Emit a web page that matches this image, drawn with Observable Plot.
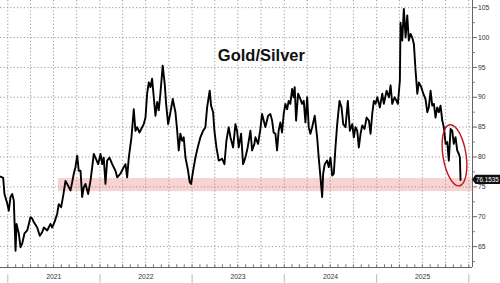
<!DOCTYPE html>
<html>
<head>
<meta charset="utf-8">
<script src="https://cdn.jsdelivr.net/npm/d3@7"></script>
<script src="https://cdn.jsdelivr.net/npm/@observablehq/plot@0.6"></script>
<style>
  html, body { margin: 0; padding: 0; background: #fff; }
  #chart { width: 500px; height: 283px; overflow: hidden; }
  svg { font-family: "Liberation Sans", Arial, sans-serif; }
</style>
</head>
<body>
<div id="chart"></div>
<script>
// ---- Data (decimal years) ----
const time = [
  2020.921, 2020.950, 2020.964, 2020.994, 2021.011, 2021.029, 2021.048, 2021.065, 2021.084, 2021.095,
  2021.119, 2021.138, 2021.156, 2021.181, 2021.211, 2021.246, 2021.265, 2021.282, 2021.319, 2021.347,
  2021.373, 2021.391, 2021.428, 2021.463, 2021.482, 2021.507, 2021.536, 2021.553, 2021.579, 2021.601,
  2021.626, 2021.644, 2021.680, 2021.699, 2021.716, 2021.734, 2021.753, 2021.770, 2021.789, 2021.807,
  2021.824, 2021.843, 2021.872, 2021.897, 2021.916, 2021.933, 2021.951, 2021.981, 2022.006, 2022.024,
  2022.041, 2022.060, 2022.078, 2022.103, 2022.133, 2022.168, 2022.187, 2022.222, 2022.258, 2022.277,
  2022.295, 2022.313, 2022.342, 2022.367, 2022.385, 2022.404, 2022.429, 2022.458, 2022.475, 2022.494,
  2022.512, 2022.530, 2022.548, 2022.566, 2022.584, 2022.602, 2022.621, 2022.638, 2022.656, 2022.681,
  2022.703, 2022.718, 2022.740, 2022.765, 2022.790, 2022.819, 2022.838, 2022.855, 2022.873, 2022.892,
  2022.909, 2022.928, 2022.953, 2022.974, 2022.989, 2023.011, 2023.036, 2023.061, 2023.090, 2023.120,
  2023.144, 2023.163, 2023.180, 2023.191, 2023.206, 2023.228, 2023.242, 2023.264, 2023.289, 2023.326,
  2023.351, 2023.372, 2023.397, 2023.416, 2023.445, 2023.470, 2023.488, 2023.506, 2023.532, 2023.553,
  2023.578, 2023.603, 2023.633, 2023.651, 2023.676, 2023.687, 2023.716, 2023.741, 2023.759, 2023.777,
  2023.795, 2023.825, 2023.849, 2023.868, 2023.885, 2023.904, 2023.922, 2023.939, 2023.958, 2023.976,
  2023.994, 2024.012, 2024.031, 2024.048, 2024.066, 2024.085, 2024.102, 2024.113, 2024.128, 2024.150,
  2024.175, 2024.193, 2024.211, 2024.229, 2024.248, 2024.265, 2024.283, 2024.302, 2024.330, 2024.356,
  2024.373, 2024.392, 2024.410, 2024.421, 2024.438, 2024.464, 2024.482, 2024.500, 2024.519, 2024.536,
  2024.554, 2024.573, 2024.598, 2024.620, 2024.638, 2024.663, 2024.688, 2024.710, 2024.736, 2024.753,
  2024.771, 2024.790, 2024.807, 2024.826, 2024.844, 2024.869, 2024.891, 2024.916, 2024.934, 2024.952,
  2024.970, 2024.988, 2025.007, 2025.035, 2025.061, 2025.078, 2025.108, 2025.133, 2025.151, 2025.169,
  2025.194, 2025.216, 2025.230, 2025.252, 2025.259, 2025.278, 2025.295, 2025.314, 2025.332, 2025.349,
  2025.368, 2025.386, 2025.404, 2025.422, 2025.441, 2025.458, 2025.484, 2025.506, 2025.530, 2025.549,
  2025.566, 2025.585, 2025.603, 2025.621, 2025.639, 2025.657, 2025.675, 2025.693, 2025.712, 2025.729,
  2025.748, 2025.766, 2025.783, 2025.802, 2025.820, 2025.837, 2025.856, 2025.874, 2025.892, 2025.903,
  2025.910
];
const ratio = [
  76.7, 76.5, 73.8, 72.2, 71.0, 73.3, 73.8, 72.7, 64.3, 68.8,
  67.2, 64.9, 65.5, 67.2, 67.7, 69.9, 69.7, 69.1, 68.2, 66.8,
  67.4, 68.2, 67.7, 68.8, 68.2, 69.1, 70.5, 72.1, 71.6, 73.5,
  76.0, 75.5, 74.4, 75.8, 77.2, 78.3, 80.2, 77.7, 77.7, 73.3,
  74.9, 75.5, 73.8, 76.0, 78.3, 80.5, 79.9, 78.8, 80.5, 78.8,
  79.9, 75.5, 79.4, 79.9, 78.8, 77.7, 76.6, 77.2, 78.3, 78.8,
  76.6, 79.9, 83.3, 88.0, 84.4, 85.0, 84.1, 85.0, 85.5, 86.6,
  90.6, 92.5, 91.7, 93.1, 90.0, 86.9, 89.2, 87.8, 90.6, 95.3,
  92.2, 88.9, 85.5, 87.5, 89.7, 87.5, 84.4, 81.1, 83.9, 82.7,
  83.3, 79.9, 78.0, 75.8, 75.5, 77.7, 79.9, 81.6, 83.3, 84.4,
  85.0, 88.3, 90.0, 91.1, 88.6, 87.5, 84.4, 81.6, 79.4, 79.7,
  78.8, 82.7, 85.0, 83.3, 81.6, 85.5, 84.4, 81.6, 83.9, 78.8,
  79.9, 81.6, 84.4, 81.1, 82.2, 83.3, 82.2, 84.7, 87.2, 86.1,
  85.0, 86.9, 87.2, 86.1, 84.1, 83.9, 81.1, 84.4, 85.8, 84.1,
  87.2, 88.9, 88.0, 89.4, 88.9, 91.4, 90.0, 91.7, 86.1, 90.6,
  89.7, 88.9, 89.4, 85.8, 90.0, 85.0, 83.9, 85.0, 86.9, 83.3,
  79.9, 76.6, 73.3, 77.2, 78.8, 79.4, 78.3, 79.9, 76.9, 77.2,
  81.6, 85.5, 89.4, 88.3, 85.5, 85.0, 89.4, 84.4, 85.5, 83.3,
  85.0, 84.4, 81.6, 83.9, 85.3, 84.7, 86.6, 86.1, 83.9, 87.2,
  89.4, 88.9, 90.0, 88.3, 90.6, 88.9, 91.1, 90.0, 92.0, 88.9,
  90.0, 89.4, 88.9, 92.8, 102.5, 99.5, 104.8, 100.0, 103.7, 99.5,
  100.6, 100.0, 98.9, 94.5, 90.6, 92.5, 91.7, 90.6, 89.7, 87.5,
  88.3, 91.1, 88.6, 88.9, 86.6, 88.3, 87.5, 88.6, 86.1, 85.0,
  82.2, 82.5, 79.4, 84.7, 84.4, 82.2, 83.3, 81.1, 80.5, 79.9,
  76.1535
];
const yTicks = [65, 70, 75, 80, 85, 90, 95, 100, 105];
const yMinorTicks = [62.5, 67.5, 72.5, 77.5, 82.5, 87.5, 92.5, 97.5, 102.5];
const yearLabels = ["2021", "2022", "2023", "2024", "2025"];
const titleText = "Gold/Silver";
const lastLabel = "76.1535";
const bandLow = 74.2, bandHigh = 76.4, bandStart = 2021.55;
const xStart = 2020.921, xEnd = 2026.04;
const yDomain = [61.5, 106.2];
// annotation ellipse (centre in data units, semi-axes in years / ratio units)
const ellipseCenter = [2025.85, 80.2], ellipseRx = 0.125, ellipseRy = 5.17, ellipseTilt = -9;

// ---- helpers ----
function toDate(t) {
  const y = Math.floor(t);
  const s = Date.UTC(y, 0, 1), e = Date.UTC(y + 1, 0, 1);
  return new Date(s + (t - y) * (e - s));
}
const data = time.map((t, i) => ({date: toDate(t), value: ratio[i]}));
const quarters = [];
const months = [];
for (let y = 2020; y <= 2026; y++) {
  for (let m = 0; m < 12; m++) {
    const d = new Date(Date.UTC(y, m, 1));
    if (d >= toDate(xStart) && d <= toDate(xEnd)) {
      months.push(d);
      if (m % 3 === 0) quarters.push(d);
    }
  }
}
const yearStarts = [2021, 2022, 2023, 2024, 2025, 2026].map(y => new Date(Date.UTC(y, 0, 1)));
const yearMids = yearLabels.map(y => new Date(Date.UTC(+y, 6, 2)));
const lastValue = ratio[ratio.length - 1];

const ellipseMark = (index, scales) => {
  const x = scales.x, y = scales.y;
  const cx = x(toDate(ellipseCenter[0])), cy = y(ellipseCenter[1]);
  const rx = Math.abs(x(toDate(ellipseCenter[0] + ellipseRx)) - cx);
  const ry = Math.abs(y(ellipseCenter[1] + ellipseRy) - cy);
  const el = d3.create("svg:ellipse")
    .attr("cx", cx).attr("cy", cy).attr("rx", rx).attr("ry", ry)
    .attr("transform", `rotate(${ellipseTilt} ${cx} ${cy})`)
    .attr("fill", "none").attr("stroke", "#c0171d").attr("stroke-width", 1.4);
  return el.node();
};

// black pointer box behind the last-value label
const lastBox = (index, scales, values, dimensions) => {
  const y = scales.y(lastValue);
  const x0 = dimensions.width - dimensions.marginRight;
  return d3.create("svg:path")
    .attr("d", `M${x0},${y} L${x0 + 3.5},${y - 4.6} L${x0 + 30},${y - 4.6} L${x0 + 30},${y + 4.6} L${x0 + 3.5},${y + 4.6} Z`)
    .attr("fill", "#111").node();
};

const chart = Plot.plot({
  width: 500,
  height: 283,
  marginLeft: 0,
  marginRight: 28,
  marginTop: 0,
  marginBottom: 16,
  style: {fontFamily: "'Liberation Sans', Arial, sans-serif", background: "#fff", overflow: "visible"},
  x: {type: "utc", domain: [toDate(xStart), toDate(xEnd)]},
  y: {domain: yDomain},
  marks: [
    Plot.rect([0], {x1: () => toDate(bandStart), x2: () => toDate(xEnd), y1: () => bandLow, y2: () => bandHigh, fill: "#f9d2d2"}),
    Plot.gridY(yTicks, {stroke: "#9a9a9a", strokeOpacity: 1, strokeDasharray: "1.2,2.2", strokeWidth: 1}),
    Plot.gridX(quarters, {stroke: "#9a9a9a", strokeOpacity: 1, strokeDasharray: "1.2,2.2", strokeWidth: 1}),
    Plot.text([titleText], {x: () => toDate(2023.752), y: () => 96.95, text: d => d, fontSize: 16.5, fontWeight: "bold", fill: "#111", textAnchor: "middle"}),
    Plot.lineY(data, {x: "date", y: "value", stroke: "#000", strokeWidth: 1.9, strokeLinejoin: "round"}),
    ellipseMark,
    // axis lines
    Plot.ruleY([yDomain[0]], {stroke: "#666", strokeWidth: 1}),
    Plot.ruleX([toDate(xEnd)], {stroke: "#666", strokeWidth: 1}),
    // month ticks
    Plot.ruleX(months, {x: d => d, y1: yDomain[0], y2: yDomain[0] + 0.45, stroke: "#777", strokeWidth: 1}),
    // year separators below axis
    Plot.ruleX(yearStarts, {x: d => d, y1: 60.3, y2: 58.7, stroke: "#bbb", strokeWidth: 1}),
    Plot.axisX(yearMids, {anchor: "bottom", tickSize: 0, tickPadding: 7, tickFormat: d => String(d.getUTCFullYear()), fontSize: 6.8, fill: "#333", label: null}),
    Plot.axisY(yTicks, {anchor: "right", tickSize: 4, tickPadding: 1.5, fontSize: 6.8, fill: "#333", stroke: "#666", label: null}),
    Plot.axisY(yMinorTicks, {anchor: "right", tickSize: 2, text: null, stroke: "#888", label: null}),
    lastBox,
    Plot.text([lastLabel], {x: () => toDate(xEnd), y: () => lastValue, text: d => d, dx: 3.4, textAnchor: "start", fill: "#ffffff", fontSize: 6.3, lineAnchor: "middle"})
  ]
});
document.getElementById("chart").appendChild(chart);
</script>
</body>
</html>
